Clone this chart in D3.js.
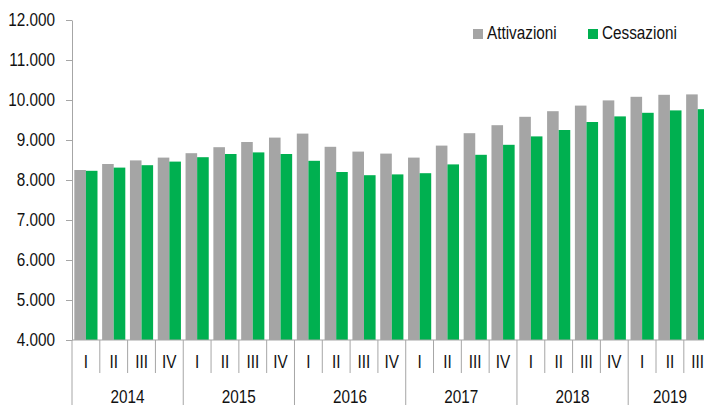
<!DOCTYPE html>
<html>
<head>
<meta charset="utf-8">
<script src="https://cdn.jsdelivr.net/npm/d3@7"></script>
<style>
body { margin: 0; background: #fff; }
svg text { font-family: "Liberation Sans", Arial, sans-serif; fill: #111; }
</style>
</head>
<body>
<script>
// Data
var years = ["2014", "2015", "2016", "2017", "2018", "2019"];
var quarters = ["I", "II", "III", "IV"];
var seriesNames = ["Attivazioni", "Cessazioni"];
var attivazioni = [8250, 8400, 8490, 8560, 8670, 8820, 8950, 9060, 9160, 8830, 8710, 8660,
	8560, 8860, 9170, 9370, 9580, 9720, 9860, 9990, 10080, 10130, 10140];
var cessazioni = [8230, 8310, 8370, 8460, 8570, 8650, 8690, 8650, 8480, 8200, 8120, 8140,
	8170, 8390, 8630, 8880, 9090, 9250, 9450, 9590, 9680, 9740, 9770];
var yTicks = [4000, 5000, 6000, 7000, 8000, 9000, 10000, 11000, 12000];

// periods: year + quarter, as many as there are values
var periods = [];
years.forEach(function(y){
	quarters.forEach(function(q){
		periods.push({year: y, q: q, key: y + "-" + q});
	});
});
periods = periods.slice(0, attivazioni.length);

var colors = {"Attivazioni": "#a5a5a5", "Cessazioni": "#00b050"};

//Width and height
var w = 704, h = 405;
var mLeft = 72, mTop = 20, mBottom = 340;
var step = 27.81;
var fontSize = "18px";
var squeeze = 0.85; // the original font is a narrow one

var svg = d3.select("body")
	.append("svg")
	.attr("width", w)
	.attr("height", h);

var it = d3.formatLocale({decimal: ",", thousands: ".", grouping: [3], currency: ["€", ""]});
var fmt = it.format(",");

var y = d3.scaleLinear()
	.domain([4000, 12000])
	.range([mBottom, mTop]);

var x = d3.scaleBand()
	.domain(periods.map(function(d){ return d.key; }))
	.range([mLeft, mLeft + step * periods.length])
	.padding(0);

var xs = d3.scaleBand()
	.domain(seriesNames)
	.range([0, x.bandwidth()])
	.paddingInner(0)
	.paddingOuter(0.2);

// bars
var rows = periods.map(function(p, i){
	return {key: p.key, values: [
		{name: "Attivazioni", v: attivazioni[i]},
		{name: "Cessazioni", v: cessazioni[i]}
	]};
});

var groups = svg.append("g").selectAll("g")
	.data(rows)
	.enter()
	.append("g")
	.attr("transform", function(d){ return "translate(" + x(d.key) + ",0)"; });

groups.selectAll("rect")
	.data(function(d){ return d.values; })
	.enter()
	.append("rect")
	.attr("x", function(d){ return xs(d.name); })
	.attr("width", xs.bandwidth())
	.attr("y", function(d){ return y(d.v); })
	.attr("height", function(d){ return y(4000) - y(d.v); })
	.style("fill", function(d){ return colors[d.name]; });

// y axis
var axisColor = "#a6a6a6";
var yAxis = d3.axisLeft(y)
	.tickValues(yTicks)
	.tickFormat(fmt)
	.tickSize(6)
	.tickPadding(11)
	.tickSizeOuter(0);

var ya = svg.append("g")
	.attr("transform", "translate(" + mLeft + ",0)")
	.call(yAxis);
ya.select(".domain").style("stroke", axisColor);
ya.selectAll(".tick line").style("stroke", axisColor);
ya.selectAll("text")
	.style("font-size", fontSize)
	.style("font-family", "'Liberation Sans', Arial, sans-serif")
	.style("fill", "#111");

// x axis: baseline
svg.append("line")
	.attr("x1", mLeft).attr("x2", w + 20)
	.attr("y1", mBottom).attr("y2", mBottom)
	.style("stroke", axisColor);

// quarter separators and labels
svg.append("g").selectAll("line")
	.data(periods)
	.enter()
	.append("line")
	.attr("x1", function(d){ return x(d.key); })
	.attr("x2", function(d){ return x(d.key); })
	.attr("y1", mBottom)
	.attr("y2", function(d){ return d.q == "I" ? h : 373; })
	.style("stroke", axisColor);

svg.append("g").selectAll("text")
	.data(periods)
	.enter()
	.append("text")
	.attr("x", function(d){ return x(d.key) + x.bandwidth() / 2; })
	.attr("y", 368)
	.attr("text-anchor", "middle")
	.style("font-size", fontSize)
	.text(function(d){ return d.q; });

// year labels
svg.append("g").selectAll("text")
	.data(years)
	.enter()
	.append("text")
	.attr("x", function(yr){
		var ps = periods.filter(function(p){ return p.year == yr; });
		var x0 = x(ps[0].key), x1 = x(ps[ps.length - 1].key) + x.bandwidth();
		return (x0 + x1) / 2;
	})
	.attr("y", 403)
	.attr("text-anchor", "middle")
	.style("font-size", fontSize)
	.text(function(d){ return d; });

// legend
var legendX = [473, 588];
var legend = svg.append("g").selectAll("g")
	.data(seriesNames)
	.enter()
	.append("g")
	.attr("transform", function(d, i){ return "translate(" + legendX[i] + ",29)"; });
legend.append("rect")
	.attr("width", 10)
	.attr("height", 10)
	.style("fill", function(d){ return colors[d]; });
legend.append("text")
	.attr("x", 14)
	.attr("y", 10)
	.style("font-size", fontSize)
	.text(function(d){ return d; });

// narrow every text a bit
svg.selectAll("text").each(function(){
	var len = this.getComputedTextLength();
	d3.select(this)
		.attr("textLength", len * squeeze)
		.attr("lengthAdjust", "spacingAndGlyphs");
});
</script>
</body>
</html>
